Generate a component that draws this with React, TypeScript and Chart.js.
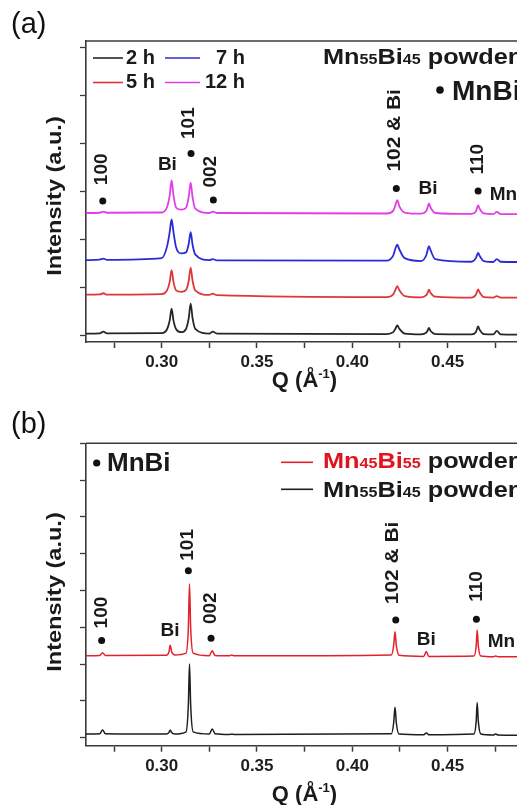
import React, { useEffect, useRef } from "react";
import { Chart, registerables } from "chart.js";
Chart.register(...registerables);

const FONT = "'Liberation Sans', Arial, Helvetica, sans-serif";

// ---------- Shared x axis ----------
const X_MIN = 0.2603;
const X_MAX = 0.4864;
const X_TICKS = [0.275, 0.3, 0.325, 0.35, 0.375, 0.4, 0.425, 0.45, 0.475];
const X_LABELED = [0.3, 0.35, 0.4, 0.45];

// ---------- Panel (a): Mn55Bi45 powder, milling time ----------
const Q_A = [
  0.2603, 0.2675, 0.2694, 0.2713,
  0.3, 0.3028, 0.3042, 0.3052, 0.3062, 0.3076,
  0.3102,
  0.3128, 0.3142, 0.3152, 0.3162, 0.3176,
  0.325, 0.3268, 0.329,
  0.418, 0.4215, 0.4226, 0.4236, 0.4247, 0.4275,
  0.436, 0.4388, 0.4396, 0.4402, 0.441, 0.4435,
  0.4625, 0.4648, 0.4654, 0.466, 0.4668, 0.469,
  0.474, 0.4758, 0.4778,
  0.4864,
];
const I_2H = [
  0.05, 0.055, 0.09, 0.055,
  0.06, 0.14, 0.32, 0.57, 0.32, 0.14,
  0.08,
  0.15, 0.37, 0.675, 0.37, 0.15,
  0.05, 0.09, 0.05,
  0.04, 0.08, 0.15, 0.22, 0.15, 0.05,
  0.035, 0.07, 0.12, 0.17, 0.11, 0.04,
  0.035, 0.08, 0.14, 0.2, 0.13, 0.04,
  0.035, 0.105, 0.035,
  0.03,
];
const I_5H = [
  0.86, 0.865, 0.89, 0.86,
  0.87, 0.95, 1.12, 1.37, 1.12, 0.95,
  0.92,
  0.96, 1.15, 1.425, 1.15, 0.95,
  0.855, 0.88, 0.85,
  0.81, 0.87, 0.96, 1.035, 0.95, 0.83,
  0.805, 0.85, 0.91, 0.967, 0.9, 0.82,
  0.8, 0.86, 0.92, 0.97, 0.91, 0.81,
  0.8, 0.83, 0.8,
  0.8,
];
const I_7H = [
  1.58, 1.59, 1.61, 1.585,
  1.62, 1.86, 2.16, 2.425, 2.16, 1.84,
  1.72,
  1.74, 1.92, 2.16, 1.9, 1.7,
  1.58, 1.6, 1.575,
  1.57, 1.68, 1.82, 1.9, 1.8, 1.62,
  1.56, 1.68, 1.8, 1.87, 1.79, 1.6,
  1.545, 1.62, 1.68, 1.73, 1.67, 1.56,
  1.54, 1.6, 1.545,
  1.54,
];
const I_12H = [
  2.56, 2.565, 2.59, 2.565,
  2.57, 2.68, 2.92, 3.24, 2.92, 2.67,
  2.63,
  2.67, 2.9, 3.19, 2.89, 2.65,
  2.56, 2.59, 2.56,
  2.55, 2.61, 2.72, 2.83, 2.7, 2.57,
  2.545, 2.6, 2.69, 2.76, 2.68, 2.56,
  2.54, 2.59, 2.66, 2.72, 2.65, 2.55,
  2.535, 2.585, 2.535,
  2.535,
];
const Y_TICKS_A = [0, 1, 2, 3, 4, 5, 6];
const Y_RANGE_A = [-0.125, 6.14];
const LEGEND_A = ["2 h", "5 h", "7 h", "12 h"];
const COLORS_A = ["#262626", "#e0353a", "#2b2bd6", "#e23ee8"];

// peak markers, panel (a): [Q, level]
const DOTS_A: [number, number][] = [
  [0.2691, 2.81], [0.3154, 3.8], [0.3271, 2.83], [0.4231, 3.07], [0.466, 3.02],
];
const VLABELS_A: [string, number, number][] = [
  ["100", 0.2685, 3.47], ["101", 0.314, 4.43], ["002", 0.3257, 3.42],
  ["102 & Bi", 0.4223, 4.28], ["110", 0.466, 3.68],
];
const HLABELS_A: [string, number, number][] = [
  ["Bi", 0.303, 3.56], ["Bi", 0.4397, 3.07],
];
const MN_A: [string, number, number] = ["Mn", 0.4721, 2.93];

// ---------- Panel (b): Mn45Bi55 vs Mn55Bi45 powder ----------
const Q_B = [
  0.2603, 0.2675, 0.269, 0.2705,
  0.3025, 0.3038, 0.3045, 0.3052, 0.3068,
  0.3128, 0.314, 0.3146, 0.3152, 0.3165,
  0.325, 0.3265, 0.328,
  0.3355, 0.3367, 0.338,
  0.4205, 0.4217, 0.4224, 0.4231, 0.4245,
  0.4375, 0.4388, 0.4401,
  0.4638, 0.465, 0.4655, 0.4661, 0.4674,
  0.474, 0.4752, 0.4765,
  0.4864,
];
const I_MN45 = [
  2.23, 2.235, 2.31, 2.235,
  2.24, 2.33, 2.51, 2.34, 2.25,
  2.3, 3.0, 4.18, 3.0, 2.3,
  2.23, 2.36, 2.235,
  2.225, 2.25, 2.225,
  2.25, 2.5, 2.88, 2.5, 2.24,
  2.21, 2.34, 2.21,
  2.22, 2.5, 2.93, 2.5, 2.22,
  2.2, 2.22, 2.2,
  2.2,
];
const I_MN55 = [
  0.1, 0.105, 0.21, 0.11,
  0.1, 0.14, 0.21, 0.14, 0.1,
  0.16, 0.9, 2.0, 0.9, 0.16,
  0.1, 0.24, 0.11,
  0.09, 0.095, 0.09,
  0.11, 0.4, 0.83, 0.4, 0.1,
  0.08, 0.13, 0.08,
  0.1, 0.45, 0.96, 0.45, 0.1,
  0.075, 0.1, 0.075,
  0.07,
];
const Y_TICKS_B = [0, 1, 2, 3, 4, 5, 6, 7, 8];
const Y_RANGE_B = [-0.217, 8.0];
const COLORS_B = ["#e3202b", "#1e1e1e"];

const DOTS_B: [number, number][] = [
  [0.2685, 2.64], [0.314, 4.54], [0.3259, 2.7], [0.4228, 3.2], [0.4651, 3.22],
];
const VLABELS_B: [string, number, number][] = [
  ["100", 0.2685, 3.4], ["101", 0.3135, 5.24], ["002", 0.3257, 3.52],
  ["102 & Bi", 0.4214, 4.75], ["110", 0.4651, 4.11],
];
const HLABELS_B: [string, number, number][] = [
  ["Bi", 0.3044, 2.9], ["Bi", 0.4388, 2.67],
];
const MN_B: [string, number, number] = ["Mn", 0.471, 2.61];

// ---------- drawing helpers ----------
const TXT = "#1a1a1a";
const AXIS = "#3a3a3a";

function setFont(ctx: CanvasRenderingContext2D, size: number, bold = true) {
  ctx.font = `${bold ? "bold " : ""}${size}px ${FONT}`;
}

function hText(ctx: CanvasRenderingContext2D, s: string, x: number, y: number, size: number,
  align: CanvasTextAlign = "center", color = TXT, bold = true) {
  setFont(ctx, size, bold);
  ctx.fillStyle = color;
  ctx.textAlign = align;
  ctx.textBaseline = "middle";
  ctx.fillText(s, x, y);
}

function vText(ctx: CanvasRenderingContext2D, s: string, x: number, y: number, size: number, stretch = 1) {
  ctx.save();
  ctx.translate(x, y);
  ctx.rotate(-Math.PI / 2);
  ctx.scale(stretch, 1);
  setFont(ctx, size, true);
  ctx.fillStyle = TXT;
  ctx.textAlign = "center";
  ctx.textBaseline = "middle";
  ctx.fillText(s, 0, 0);
  ctx.restore();
}

type Part = { t: string; s: number; c?: string; dy?: number };
function richText(ctx: CanvasRenderingContext2D, parts: Part[], x: number, baseline: number, stretch = 1) {
  ctx.save();
  ctx.translate(x, baseline);
  ctx.scale(stretch, 1);
  let cx = 0;
  ctx.textAlign = "left";
  ctx.textBaseline = "alphabetic";
  for (const p of parts) {
    setFont(ctx, p.s, true);
    ctx.fillStyle = p.c || TXT;
    ctx.fillText(p.t, cx, p.dy || 0);
    cx += ctx.measureText(p.t).width;
  }
  ctx.restore();
}

function dot(ctx: CanvasRenderingContext2D, x: number, y: number, r = 3.5) {
  ctx.beginPath();
  ctx.arc(x, y, r, 0, Math.PI * 2);
  ctx.fillStyle = "#111";
  ctx.fill();
}

function seg(ctx: CanvasRenderingContext2D, x1: number, x2: number, y: number, color: string) {
  ctx.beginPath();
  ctx.moveTo(x1, y);
  ctx.lineTo(x2, y);
  ctx.strokeStyle = color;
  ctx.lineWidth = 1.6;
  ctx.stroke();
}

function drawCommon(chart: any, dots: [number, number][], vl: [string, number, number][],
  hl: [string, number, number][], mn: [string, number, number], panel: string,
  titleY: number, xTitleBase: number) {
  const { ctx, chartArea, scales } = chart;
  const xs = scales.x, ys = scales.y;
  ctx.save();
  // top frame line
  ctx.beginPath();
  ctx.moveTo(chartArea.left, chartArea.top);
  ctx.lineTo(chartArea.right + 2, chartArea.top);
  ctx.strokeStyle = AXIS;
  ctx.lineWidth = 1.6;
  ctx.stroke();
  // peak markers
  for (const [q, v] of dots) dot(ctx, xs.getPixelForValue(q), ys.getPixelForValue(v));
  for (const [s, q, v] of vl) vText(ctx, s, xs.getPixelForValue(q), ys.getPixelForValue(v), 19, s.length > 3 ? 1.1 : 1);
  for (const [s, q, v] of hl) hText(ctx, s, xs.getPixelForValue(q), ys.getPixelForValue(v), 19);
  hText(ctx, mn[0], xs.getPixelForValue(mn[1]), ys.getPixelForValue(mn[2]), 19, "left");
  // panel letter
  hText(ctx, panel, 11, 25, 29, "left", "#111", false);
  // y title
  vText(ctx, "Intensity (a.u.)", 55, titleY, 21, 1.12);
  // x title Q (Å^-1)
  const cx = (chartArea.left + chartArea.right) / 2 + 3;
  setFont(ctx, 22, true);
  const w1 = ctx.measureText("Q (Å").width;
  setFont(ctx, 13, true);
  const w2 = ctx.measureText("-1").width;
  setFont(ctx, 22, true);
  const w3 = ctx.measureText(")").width;
  const x0 = cx - (w1 + w2 + w3) / 2;
  richText(ctx, [{ t: "Q (Å", s: 22 }, { t: "-1", s: 13, dy: -9 }, { t: ")", s: 22 }], x0, xTitleBase);
  ctx.restore();
}

const pluginA = {
  id: "panelA",
  afterDraw(chart: any) {
    const { ctx } = chart;
    drawCommon(chart, DOTS_A, VLABELS_A, HLABELS_A, MN_A, "(a)", 196, 387);
    ctx.save();
    // legend
    const rows = [58, 82.5];
    seg(ctx, 93, 123, rows[0], COLORS_A[0]);
    hText(ctx, LEGEND_A[0], 126, rows[0], 20, "left");
    seg(ctx, 93, 123, rows[1], COLORS_A[1]);
    hText(ctx, LEGEND_A[1], 126, rows[1], 20, "left");
    seg(ctx, 165, 200, rows[0], COLORS_A[2]);
    hText(ctx, LEGEND_A[2], 245, rows[0], 20, "right");
    seg(ctx, 165, 200, rows[1], COLORS_A[3]);
    hText(ctx, LEGEND_A[3], 245, rows[1], 20, "right");
    // sample label
    richText(ctx, [
      { t: "Mn", s: 22 }, { t: "55", s: 14 }, { t: "Bi", s: 22 }, { t: "45", s: 14 }, { t: " powder", s: 22 },
    ], 323, 64, 1.15);
    dot(ctx, 440, 90, 3.8);
    setFont(ctx, 28, true);
    ctx.fillStyle = TXT;
    ctx.textAlign = "left";
    ctx.textBaseline = "alphabetic";
    ctx.fillText("MnBi", 452, 100);
    ctx.restore();
  },
};

const pluginB = {
  id: "panelB",
  afterDraw(chart: any) {
    const { ctx } = chart;
    drawCommon(chart, DOTS_B, VLABELS_B, HLABELS_B, MN_B, "(b)", 192, 401);
    ctx.save();
    dot(ctx, 96.7, 63, 3.6);
    setFont(ctx, 26, true);
    ctx.fillStyle = TXT;
    ctx.textAlign = "left";
    ctx.textBaseline = "alphabetic";
    ctx.fillText("MnBi", 107, 71);
    seg(ctx, 281, 313, 62.3, COLORS_B[0]);
    richText(ctx, [
      { t: "Mn", s: 22, c: "#e0141e" }, { t: "45", s: 14, c: "#e0141e" }, { t: "Bi", s: 22, c: "#e0141e" },
      { t: "55", s: 14, c: "#e0141e" }, { t: " powder", s: 22 },
    ], 323, 68.3, 1.15);
    seg(ctx, 281, 313, 89.3, COLORS_B[1]);
    richText(ctx, [
      { t: "Mn", s: 22 }, { t: "55", s: 14 }, { t: "Bi", s: 22 }, { t: "45", s: 14 }, { t: " powder", s: 22 },
    ], 323, 96.7, 1.15);
    ctx.restore();
  },
};

function makeConfig(q: number[], series: number[][], colors: string[], yTicks: number[],
  yRange: number[], topPad: number, xHeight: number, lw: number, plugin: any): any {
  return {
    type: "line",
    data: {
      datasets: series.map((vals, i) => ({
        data: vals.map((v, j) => ({ x: q[j], y: v })),
        borderColor: colors[i],
        borderWidth: lw,
        pointRadius: 0,
        fill: false,
        cubicInterpolationMode: "monotone",
      })),
    },
    options: {
      animation: false,
      responsive: false,
      devicePixelRatio: 1,
      layout: { padding: { top: topPad, left: 0, right: 0, bottom: 0 } },
      plugins: { legend: { display: false }, tooltip: { enabled: false } },
      scales: {
        x: {
          type: "linear",
          min: X_MIN,
          max: X_MAX,
          afterBuildTicks: (s: any) => { s.ticks = X_TICKS.map((v) => ({ value: v })); },
          afterFit: (s: any) => { s.height = xHeight; },
          ticks: {
            autoSkip: false,
            maxRotation: 0,
            minRotation: 0,
            padding: 4,
            color: "#1e1e1e",
            font: { family: FONT, size: 17, weight: "bold" },
            callback: (v: number) => (X_LABELED.some((t) => Math.abs(t - v) < 1e-6) ? v.toFixed(2) : ""),
          },
          grid: { display: true, drawOnChartArea: false, drawTicks: true, tickLength: 6, tickWidth: 1.5, tickColor: AXIS },
          border: { display: true, color: AXIS, width: 1.6 },
        },
        y: {
          type: "linear",
          min: yRange[0],
          max: yRange[1],
          afterBuildTicks: (s: any) => { s.ticks = yTicks.map((v) => ({ value: v })); },
          afterFit: (s: any) => { s.width = 86; },
          ticks: { display: false },
          grid: { display: true, drawOnChartArea: false, drawTicks: true, tickLength: 6, tickWidth: 1.3, tickColor: AXIS },
          border: { display: true, color: AXIS, width: 1.6 },
        },
      },
    },
    plugins: [plugin],
  };
}

function Panel({ height, config }: { height: number; config: () => any }) {
  const ref = useRef<HTMLCanvasElement>(null);
  useEffect(() => {
    const chart = new Chart(ref.current as HTMLCanvasElement, config());
    return () => chart.destroy();
  }, []);
  return <canvas ref={ref} width={517} height={height} style={{ display: "block", width: 517, height }} />;
}

export default function App() {
  return (
    <div style={{ position: "fixed", left: 0, top: 0, width: 517, height: 805, overflow: "hidden", background: "#fff" }}>
      <Panel
        height={400}
        config={() => makeConfig(Q_A, [I_2H, I_5H, I_7H, I_12H], COLORS_A, Y_TICKS_A, Y_RANGE_A, 41, 58, 1.8, pluginA)}
      />
      <Panel
        height={405}
        config={() => makeConfig(Q_B, [I_MN45, I_MN55], COLORS_B, Y_TICKS_B, Y_RANGE_B, 43.3, 59.3, 1.5, pluginB)}
      />
    </div>
  );
}
